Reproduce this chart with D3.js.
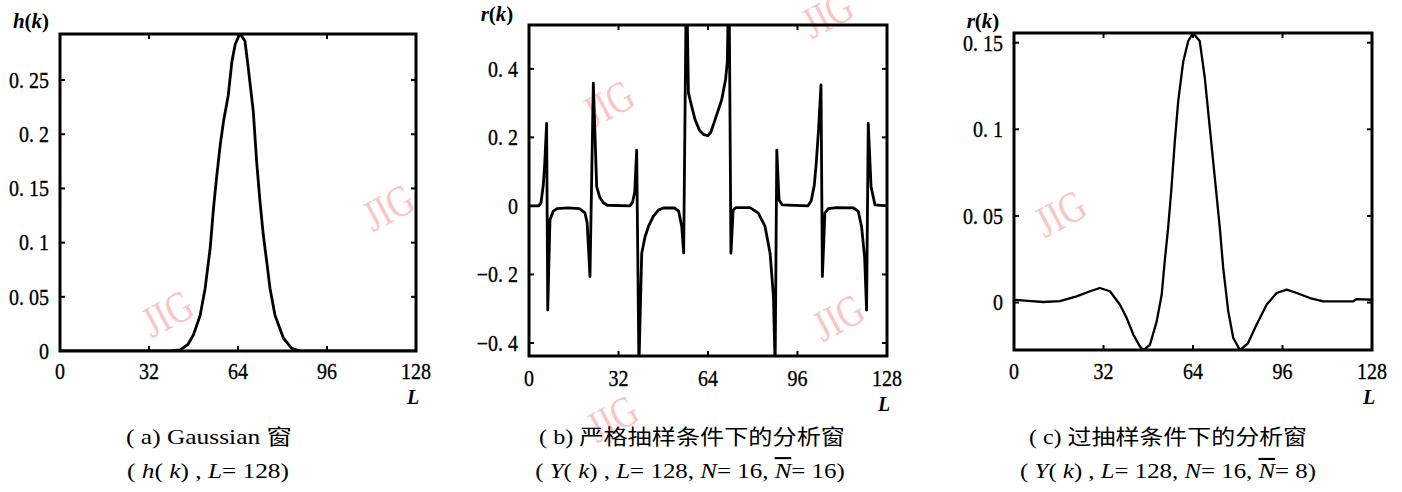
<!DOCTYPE html>
<html>
<head>
<meta charset="utf-8">
<script src="https://cdn.jsdelivr.net/npm/d3@7"></script>
<style>
  body { margin: 0; background: #fff; }
  svg { display: block; font-family: "Liberation Serif", "Times New Roman", "DejaVu Serif", serif; }
</style>
</head>
<body>
<div id="chart"></div>
<script>
// (a) Gaussian window h(k)
const hK = [0, 40, 43.2, 46, 48, 50.4, 52.2, 54, 55.2, 56.3, 57.6, 58.8, 60.5, 61.8, 63, 64.7,
  66.5, 67.7, 69.5, 70.7, 71.9, 73.1, 74.3, 75.5, 77.3, 80.3, 83.3, 86.3, 128];
const hV = [0, 0, 0.001, 0.006, 0.015, 0.033, 0.058, 0.095, 0.132, 0.16, 0.19, 0.212, 0.236, 0.267, 0.283, 0.293,
  0.286, 0.261, 0.221, 0.175, 0.138, 0.107, 0.083, 0.058, 0.033, 0.012, 0.0025, 0, 0];

// (b) analysis window, critical sampling
const rbK = [0, 3.5, 4.3, 5.1, 5.6, 6.3, 6.7, 7.5, 8.7, 10, 14, 18, 20, 20.8, 21.8, 23, 24.2, 25.3, 26.5, 28,
  36, 37, 37.8, 38.5, 39.3, 40.3, 41.5, 42.7, 44.5, 46.3, 48, 52, 53.5, 54.6, 55.3, 56.3, 57, 58.2, 59.4, 61, 62.5,
  64, 65, 66.5, 68.9, 70.3, 70.9, 71.5, 72.2, 73, 74, 79, 82, 84.4, 86.2, 87.4, 88, 88.6, 89.4, 90.5,
  99.7, 100.9, 102, 102.7, 103.5, 104.4, 104.9, 105.8, 107, 110, 116, 117.7, 118.9, 120, 120.7, 121.3, 122.3, 123.7, 128];
const rbV = [0, 0, 0.01, 0.06, 0.12, 0.241, -0.304, -0.04, -0.015, -0.008, -0.006, -0.008, -0.02, -0.05, -0.206, 0.358, 0.056, 0.025, 0.01, 0.002,
  0, 0.01, 0.04, 0.163, -0.47, -0.138, -0.09, -0.06, -0.03, -0.012, -0.006, -0.006, -0.015, -0.06, -0.137, 0.7, 0.33, 0.29, 0.251, 0.22, 0.208,
  0.205, 0.215, 0.251, 0.31, 0.37, 0.42, 0.7, -0.138, -0.012, -0.005, -0.005, -0.021, -0.06, -0.138, -0.265, -0.47, 0.163, 0.018, 0.003,
  0, 0.015, 0.06, 0.125, 0.22, 0.353, -0.206, -0.02, -0.008, -0.005, -0.006, -0.015, -0.06, -0.15, -0.304, 0.241, 0.056, 0.003, 0];

// (c) analysis window, oversampling
const rcK = [0, 5, 10.5, 16.4, 22.4, 27.2, 30.7, 34.3, 37.9, 40.3, 42.7, 45, 46.2, 48.6, 51, 52.8, 53.9, 55.1, 56.3,
  57.5, 58.7, 60.5, 62.3, 64, 66.4, 68.2, 70, 71.8, 73.6, 74.8, 76.6, 78.4, 80.8, 83.7, 86.7, 90.3, 93.9, 97.5,
  101.1, 105.8, 110.6, 121.3, 122.5, 128];
const rcV = [0.0016, 0.001, 0.0003, 0.0008, 0.0036, 0.0065, 0.0084, 0.0065, -0.0013, -0.009, -0.0186, -0.0253, -0.0275, -0.0244, -0.011, 0.0045, 0.024, 0.043, 0.066,
  0.093, 0.116, 0.139, 0.151, 0.1556, 0.151, 0.13, 0.101, 0.072, 0.043, 0.02, -0.005, -0.0205, -0.0275, -0.0234, -0.0128, -0.0013, 0.0055, 0.0074,
  0.0055, 0.0026, 0.0007, 0.0007, 0.002, 0.0016];

const xTicks = [0, 32, 64, 96, 128];
const aTicks = [0, 0.05, 0.1, 0.15, 0.2, 0.25];
const aTickLabels = ['0', '0. 05', '0. 1', '0. 15', '0. 2', '0. 25'];
const bTicks = [-0.4, -0.2, 0, 0.2, 0.4];
const bTickLabels = ['\u22120. 4', '\u22120. 2', '0', '0. 2', '0. 4'];
const cTicks = [0, 0.05, 0.1, 0.15];
const cTickLabels = ['0', '0. 05', '0. 1', '0. 15'];

const width = 1402, height = 492;

const svg = d3.select('#chart').append('svg')
  .attr('width', width)
  .attr('height', height)
  .attr('viewBox', [0, 0, width, height]);

// JIG watermarks, drawn underneath everything
const marks = [[167, 313], [388, 207], [608, 103], [838, 317], [827, 14], [612, 418], [1060, 213]];
svg.append('g').selectAll('text')
  .data(marks)
  .enter().append('text')
  .attr('transform', d => `translate(${d[0]},${d[1]}) rotate(-28) scale(0.8,1)`)
  .attr('text-anchor', 'middle')
  .attr('dy', '0.35em')
  .style('font-size', '44px')
  .style('fill', '#f9c6c6')
  .text('JIG');

const panels = [
  {id: 'a', left: 60, right: 416, top: 34, bottom: 351, yDomain: [0, 0.2925],
   k: hK, v: hV, yTicks: aTicks, yLabels: aTickLabels, name: 'h', lw: 2.8,
   xLabelY: 371, lX: 413, lY: 404, tX: 31, tY: 28},
  {id: 'b', left: 529, right: 887, top: 25, bottom: 356, yDomain: [-0.438, 0.528],
   k: rbK, v: rbV, yTicks: bTicks, yLabels: bTickLabels, name: 'r', lw: 2.8,
   xLabelY: 378, lX: 884, lY: 411, tX: 497, tY: 21},
  {id: 'c', left: 1014, right: 1372, top: 33, bottom: 350, yDomain: [-0.0274, 0.1556],
   k: rcK, v: rcV, yTicks: cTicks, yLabels: cTickLabels, name: 'r', lw: 2.3,
   xLabelY: 371, lX: 1369, lY: 404, tX: 983, tY: 28}
];

panels.forEach(p => {
  const x = d3.scaleLinear().domain([0, 128]).range([p.left, p.right]);
  const y = d3.scaleLinear().domain(p.yDomain).range([p.bottom, p.top]);
  const g = svg.append('g');

  g.append('clipPath').attr('id', 'clip-' + p.id)
    .append('rect')
    .attr('x', p.left).attr('y', p.top)
    .attr('width', p.right - p.left).attr('height', p.bottom - p.top);

  const line = d3.line().x(d => x(d[0])).y(d => y(d[1]));
  g.append('path')
    .datum(d3.zip(p.k, p.v))
    .attr('clip-path', `url(#clip-${p.id})`)
    .attr('d', line)
    .style('fill', 'none')
    .style('stroke', '#000')
    .style('stroke-width', p.lw)
    .style('stroke-linejoin', 'round');

  // inward tick marks on all four sides
  const ticks = g.append('g').style('stroke', '#000').style('stroke-width', 2);
  xTicks.slice(1, -1).forEach(t => {
    ticks.append('line').attr('x1', x(t)).attr('x2', x(t)).attr('y1', p.bottom).attr('y2', p.bottom - 5);
    ticks.append('line').attr('x1', x(t)).attr('x2', x(t)).attr('y1', p.top).attr('y2', p.top + 5);
  });
  p.yTicks.forEach(t => {
    ticks.append('line').attr('x1', p.left).attr('x2', p.left + 5).attr('y1', y(t)).attr('y2', y(t));
    ticks.append('line').attr('x1', p.right).attr('x2', p.right - 5).attr('y1', y(t)).attr('y2', y(t));
  });

  g.append('rect')
    .attr('x', p.left).attr('y', p.top)
    .attr('width', p.right - p.left).attr('height', p.bottom - p.top)
    .style('fill', 'none').style('stroke', '#000').style('stroke-width', 3);

  // tick labels, slightly tall glyphs like the scanned original
  g.append('g').selectAll('text')
    .data(xTicks)
    .enter().append('text')
    .attr('transform', d => `translate(${x(d)},${p.xLabelY}) scale(1,1.12)`)
    .attr('text-anchor', 'middle')
    .attr('dy', '0.35em')
    .style('font-size', '20px')
    .style('stroke', '#000').style('stroke-width', 0.3)
    .text(d => d);

  g.append('g').selectAll('text')
    .data(p.yTicks)
    .enter().append('text')
    .attr('transform', d => `translate(${p.left - 11},${y(d)}) scale(1,1.12)`)
    .attr('text-anchor', 'end')
    .attr('dy', '0.35em')
    .style('font-size', '20px')
    .style('stroke', '#000').style('stroke-width', 0.3)
    .text((d, i) => p.yLabels[i]);

  // axis titles
  g.append('text')
    .attr('x', p.lX).attr('y', p.lY)
    .attr('text-anchor', 'middle')
    .style('font-size', '20px').style('font-style', 'italic').style('font-weight', 'bold')
    .text('L');

  const t = g.append('text')
    .attr('x', p.tX).attr('y', p.tY)
    .attr('text-anchor', 'middle')
    .style('font-size', '21px').style('font-weight', 'bold');
  t.append('tspan').style('font-style', 'italic').text(p.name);
  t.append('tspan').text('(');
  t.append('tspan').style('font-style', 'italic').text('k');
  t.append('tspan').text(')');
});

// captions
const captions = [
  {cx: 209, y: 444, w: 166, parts: [['( a)  Gaussian 窗']]},
  {cx: 208, y: 478, w: 162, parts: [['( '], ['h', 'i'], ['( '], ['k', 'i'], [') , '], ['L', 'i'], ['=  128)']]},
  {cx: 692, y: 444, w: 306, parts: [['( b)  严格抽样条件下的分析窗']]},
  {cx: 690, y: 478, w: 310, parts: [['( '], ['Y', 'i'], ['( '], ['k', 'i'], [') , '], ['L', 'i'], ['=  128, '], ['N', 'i'], ['=  16, '], ['N', 'io'], ['=  16)']]},
  {cx: 1168, y: 444, w: 278, parts: [['( c)  过抽样条件下的分析窗']]},
  {cx: 1168, y: 478, w: 296, parts: [['( '], ['Y', 'i'], ['( '], ['k', 'i'], [') , '], ['L', 'i'], ['=  128, '], ['N', 'i'], ['=  16, '], ['N', 'io'], ['=  8)']]}
];

captions.forEach(c => {
  const txt = svg.append('text')
    .attr('text-anchor', 'middle')
    .style('font-family', '"Liberation Serif", "Times New Roman", "Noto Sans CJK SC", serif')
    .style('font-size', '20px');
  c.parts.forEach(([s, f]) => {
    const ts = txt.append('tspan').text(s);
    if (f && f.includes('i')) ts.style('font-style', 'italic');
    if (f && f.includes('o')) ts.style('text-decoration', 'overline');
  });
  const bw = txt.node().getBBox().width;
  txt.attr('transform', `translate(${c.cx},${c.y}) scale(${c.w / bw},1.05)`);
});
</script>
</body>
</html>
